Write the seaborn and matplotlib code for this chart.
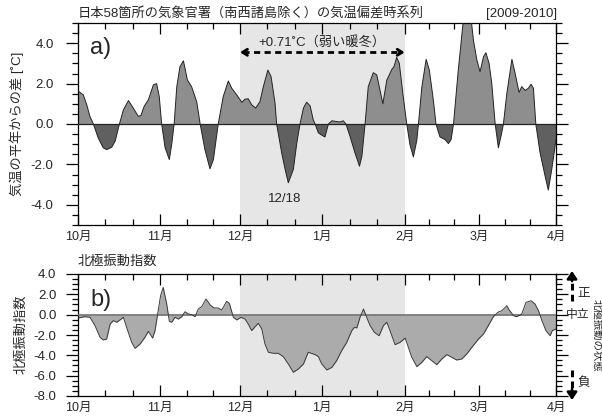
import numpy as np
import pandas as pd
import matplotlib
matplotlib.use("Agg")
import matplotlib.pyplot as plt
import matplotlib.transforms as mtransforms
import seaborn as sns

# ---------------- data ----------------
# days since 1 Oct 2009
temp_day = [0, 2.0, 3.3, 4.5, 5.8, 7.6, 9.5, 10.8, 12.7, 14.0,
            15.6, 17.1, 19.0, 20.8, 22.7, 23.7, 24.9, 26.5, 28.4, 29.6,
            30.6, 31.5, 32.8, 34.4, 35.3, 36.2, 37.2, 38.4, 39.7, 41.2,
            42.8, 44.7, 46.0, 47.8, 49.7, 51.0, 52.8, 54.7, 56.6, 57.9,
            59.8, 61.7, 62.9, 64.1, 65.4, 66.9, 68.5, 69.8, 71.5, 72.7,
            74.2, 74.8, 76.7, 78.0, 79.2, 81.1, 82.4, 83.6, 84.9, 86.1,
            87.4, 88.6, 89.3, 90.5, 92.4, 93.0, 94.3, 95.6, 97.4, 98.7,
            99.9, 100.9, 102.4, 104.3, 106.0, 106.9, 108.1, 109.3, 111.2, 112.5,
            114.8, 116.3, 118.2, 119.0, 120.0, 121.0, 122.3, 123.8, 125.0, 126.3,
            127.6, 128.2, 129.5, 131.1, 132.3, 133.8, 134.8, 136.3, 138.2, 139.5,
            140.5, 141.4, 143.2, 145.0, 146.5, 148.2, 148.9, 150.2, 151.4, 152.7,
            153.6, 154.8, 155.8, 157.1, 158.3, 159.3, 160.2, 161.5, 163.4, 164.6,
            166.1, 167.1, 168.4, 169.6, 170.6, 171.5, 172.4, 174.0, 175.9, 177.1,
            178.4, 180.0]
temp_anom = [1.64, 1.44, 0.95, 0.37, 0.0, -0.69, -1.18, -1.27, -1.15, -0.85,
             0.0, 0.70, 1.16, 0.79, 0.38, 0.42, 0.87, 1.20, 1.94, 2.00,
             1.36, 0.0, -1.18, -1.76, -1.00, 0.0, 1.85, 2.84, 3.13, 2.18,
             1.84, 1.10, 0.0, -1.27, -2.22, -1.76, 0.0, 1.36, 2.13, 1.77,
             1.44, 1.07, 1.23, 1.25, 0.95, 0.79, 1.10, 1.85, 2.67, 2.35,
             1.03, 0.0, -1.43, -2.25, -2.91, -2.25, -0.94, 0.0, 0.79, 1.08,
             0.90, 0.20, 0.0, -0.44, -0.60, -0.64, 0.0, 0.16, 0.12, 0.10,
             0.16, 0.0, -0.60, -1.43, -2.09, -1.60, 0.0, 1.85, 2.54, 2.43,
             1.00, 2.18, 2.71, 2.84, 3.30, 3.00, 1.53, 0.0, -1.02, -1.63,
             -0.80, 0.0, 1.85, 3.20, 2.67, 1.20, 0.0, -0.64, -0.77, -0.97,
             -0.77, 0.0, 2.67, 5.0, 5.9, 5.0, 4.15, 3.17, 2.59, 3.33,
             3.53, 3.00, 2.02, 0.0, -1.18, -0.60, 0.0, 1.53, 3.20, 2.51,
             1.56, 1.85, 1.66, 1.77, 1.97, 1.77, 0.0, -1.43, -2.58, -3.27,
             -2.25, -0.77]

ao_day = [0, 2.6, 4.5, 6.4, 8.3, 9.5, 10.8, 12.1, 13.3, 14.6,
          15.8, 17.1, 18.3, 20.2, 21.5, 23.4, 25.2, 26.5, 28.1, 29.0,
          30.2, 31.1, 32.1, 33.4, 34.4, 35.3, 36.5, 37.8, 39.1, 40.3,
          41.5, 42.8, 44.1, 45.3, 46.6, 48.2, 49.7, 51.2, 52.8, 54.1,
          56.0, 57.0, 58.5, 59.8, 61.3, 62.9, 64.1, 65.4, 66.7, 67.9,
          69.2, 70.4, 71.7, 73.6, 75.4, 77.3, 79.2, 81.1, 83.0, 84.9,
          86.7, 89.3, 90.5, 91.8, 93.7, 95.6, 97.4, 99.3, 101.2, 103.1,
          104.1, 105.0, 106.2, 107.5, 108.7, 110.0, 111.6, 113.4, 115.0, 116.3,
          117.5, 119.4, 121.3, 123.2, 124.4, 125.7, 127.6, 129.5, 131.3, 133.2,
          135.1, 137.0, 138.9, 140.8, 142.6, 144.5, 146.4, 148.3, 150.8, 152.7,
          154.5, 156.4, 158.1, 159.6, 161.5, 162.4, 164.0, 165.2, 167.1, 168.7,
          170.6, 172.1, 173.4, 174.7, 176.2, 177.8, 178.6, 180.0]
ao_index = [-0.33, -0.2, -0.26, -1.08, -2.23, -2.49, -2.4, -0.92, -0.59, -0.75,
            -0.52, -0.26, -1.24, -2.72, -3.31, -2.88, -2.23, -1.64, -2.3, -1.57,
            0.39, 1.87, 2.68, 1.05, -0.66, -0.75, -0.26, -0.43, -0.2, 0.29,
            0.07, 0.0, -0.2, 0.56, 0.79, 1.54, 0.98, 0.66, 0.66, 0.46,
            1.31, 1.11, -0.26, -0.52, -0.26, -0.43, -0.92, -1.57, -1.18, -0.85,
            -1.41, -2.89, -3.7, -3.8, -3.8, -4.13, -4.85, -5.67, -5.34, -4.85,
            -3.7, -3.93, -4.13, -4.85, -5.44, -5.18, -4.52, -3.54, -2.72, -1.57,
            -1.24, -1.31, -0.26, 0.56, -0.26, -1.08, -1.74, -2.07, -1.08, -0.75,
            -1.57, -2.95, -2.72, -2.3, -3.21, -4.2, -5.11, -4.69, -4.13, -4.52,
            -4.92, -4.36, -3.93, -4.2, -4.46, -4.36, -3.87, -3.21, -2.4, -1.9,
            -1.08, -0.2, 0.23, 0.39, 0.88, 0.46, -0.1, -0.2, 0.07, 1.21,
            1.37, 1.05, 0.39, -0.59, -1.57, -2.07, -1.57, -1.41]

month_pos = [0, 31, 61, 92, 123, 151, 180]
month_labels = ["10月", "11月", "12月", "1月", "2月", "3月", "4月"]
warm_start, warm_end = 61, 123
min_day, min_label = 79.2, "12/18"
warm_text = "+0.71˚C（弱い暖冬）"

# ---------------- style ----------------
sns.set_style("ticks")
plt.rcParams["font.family"] = ["Liberation Sans", "Noto Sans CJK JP", "DejaVu Sans"]
plt.rcParams["axes.linewidth"] = 0.9

W, H = 602, 418
fig = plt.figure(figsize=(W / 100, H / 100), dpi=100)

def fpos(l, t, r, b):
    return [l / W, 1 - b / H, (r - l) / W, (b - t) / H]

ax1 = fig.add_axes(fpos(78, 23, 556, 225))
ax2 = fig.add_axes(fpos(78, 274, 556, 396))

df_t = pd.DataFrame({"day": temp_day, "anom": temp_anom})
df_a = pd.DataFrame({"day": ao_day, "ao": ao_index})

minor_x = []
for a, b in zip(month_pos[:-1], month_pos[1:]):
    minor_x += [a + (b - a) / 3, a + 2 * (b - a) / 3]

def style_axes(ax, ylim, major, minor, ypad):
    ax.set_xlim(month_pos[0], month_pos[-1])
    ax.set_ylim(*ylim)
    ax.set_xticks(month_pos)
    ax.set_xticklabels(month_labels)
    ax.set_xticks(minor_x, minor=True)
    ax.set_yticks(major)
    ax.set_yticklabels([f"{v:.1f}" for v in major])
    ax.set_yticks(minor, minor=True)
    ax.tick_params(axis="x", which="both", direction="in", top=True, bottom=True,
                   labelsize=9, pad=4, color="black", width=0.9)
    ax.tick_params(axis="x", which="major", length=8)
    ax.tick_params(axis="x", which="minor", length=4)
    ax.tick_params(axis="y", which="both", direction="out", left=True, right=True,
                   labelsize=9.5, pad=ypad, color="black", width=0.9)
    ax.tick_params(axis="y", which="major", length=8.5)
    ax.tick_params(axis="y", which="minor", length=4.5)
    ax.set_xlabel("")
    ax.set_ylabel("")
    for s in ax.spines.values():
        s.set_color("black")

# ---- panel a ----
ax1.axvspan(warm_start, warm_end, color="#e6e6e6", zorder=0, lw=0)
y = np.array(temp_anom)
ax1.fill_between(temp_day, temp_anom, 0, where=y >= 0, interpolate=True,
                 color="#8e8e8e", lw=0, zorder=2)
ax1.fill_between(temp_day, temp_anom, 0, where=y <= 0, interpolate=True,
                 color="#606060", lw=0, zorder=2)
sns.lineplot(data=df_t, x="day", y="anom", ax=ax1, color="#222222", lw=0.7, zorder=3)
ax1.axhline(0, color="#222222", lw=0.9, zorder=4)
style_axes(ax1, (-5, 5), [-4, -2, 0, 2, 4], np.arange(-5, 5.01, 0.5), 9)

ax1.text(0.025, 0.93, "a)", transform=ax1.transAxes, fontsize=17, va="top", ha="left")
ax1.text((warm_start + warm_end) / 2, 4.05, warm_text, fontsize=9.5, ha="center", va="center")
ax1.plot([warm_start + 1.2, warm_end - 1.2], [3.55, 3.55], color="black", lw=2,
         ls=(0, (2.2, 1.6)), zorder=5)
for x0, x1 in [(warm_start + 2, warm_start), (warm_end - 2, warm_end)]:
    ax1.annotate("", xy=(x1, 3.55), xytext=(x0, 3.55),
                 arrowprops=dict(arrowstyle="->,head_length=0.35,head_width=0.22",
                                 lw=2, color="black", shrinkA=0, shrinkB=0), zorder=6)
ax1.text(min_day - 1.5, -3.4, min_label, fontsize=9.5, ha="center", va="top")

# ---- panel b ----
ax2.axvspan(warm_start, warm_end, color="#e6e6e6", zorder=0, lw=0)
ax2.fill_between(ao_day, ao_index, 0, color="#ababab", lw=0, zorder=2)
ax2.axhline(0, color="#7a7a7a", lw=1.3, zorder=3)
sns.lineplot(data=df_a, x="day", y="ao", ax=ax2, color="#3a3a3a", lw=0.7, zorder=4)
style_axes(ax2, (-8, 4), [-8, -6, -4, -2, 0, 2, 4], np.arange(-8, 4.01, 0.5), 7)
ax2.text(0.025, 0.88, "b)", transform=ax2.transAxes, fontsize=17, va="top", ha="left")

# right-hand phase annotation
tr = mtransforms.blended_transform_factory(ax2.transAxes, ax2.transData)
xa = 1.0335
ax2.plot([xa, xa], [1.3, 3.6], transform=tr, color="black", lw=2.2, ls=(0, (2.2, 1.4)),
         clip_on=False)
ax2.annotate("", xy=(xa, 4.3), xytext=(xa, 3.3), xycoords=tr, textcoords=tr,
             arrowprops=dict(arrowstyle="-|>,head_length=0.45,head_width=0.3",
                             lw=1.8, color="black", shrinkA=0, shrinkB=0),
             annotation_clip=False)
ax2.plot([xa, xa], [-5.4, -7.4], transform=tr, color="black", lw=2.2, ls=(0, (2.2, 1.4)),
         clip_on=False)
ax2.annotate("", xy=(xa, -8.4), xytext=(xa, -7.3), xycoords=tr, textcoords=tr,
             arrowprops=dict(arrowstyle="-|>,head_length=0.45,head_width=0.3",
                             lw=1.8, color="black", shrinkA=0, shrinkB=0),
             annotation_clip=False)
ax2.text(1.044, 2.0, "正", transform=tr, fontsize=9, ha="left", va="center")
ax2.text(1.021, 0.0, "中立", transform=tr, fontsize=8.5, ha="left", va="center")
ax2.text(1.044, -6.7, "負", transform=tr, fontsize=9, ha="left", va="center")

# ---- figure texts ----
fig.text(78 / W, 1 - 14 / H, "日本58箇所の気象官署（南西諸島除く）の気温偏差時系列",
         fontsize=9.5, ha="left", va="center")
fig.text(557 / W, 1 - 14 / H, "[2009-2010]", fontsize=9.5, ha="right", va="center")
fig.text(17 / W, 1 - 124 / H, "気温の平年からの差 [˚C]", rotation=90, fontsize=9.5,
         ha="center", va="center")
fig.text(78 / W, 1 - 262 / H, "北極振動指数", fontsize=9.5, ha="left", va="center")
fig.text(21 / W, 1 - 334 / H, "北極振動指数", rotation=90, fontsize=9.5,
         ha="center", va="center")
fig.text(596.5 / W, 1 - 335 / H, "北極振動の状態", rotation=-90, fontsize=7.5,
         ha="center", va="center")

fig.savefig("out.png", dpi=100)
